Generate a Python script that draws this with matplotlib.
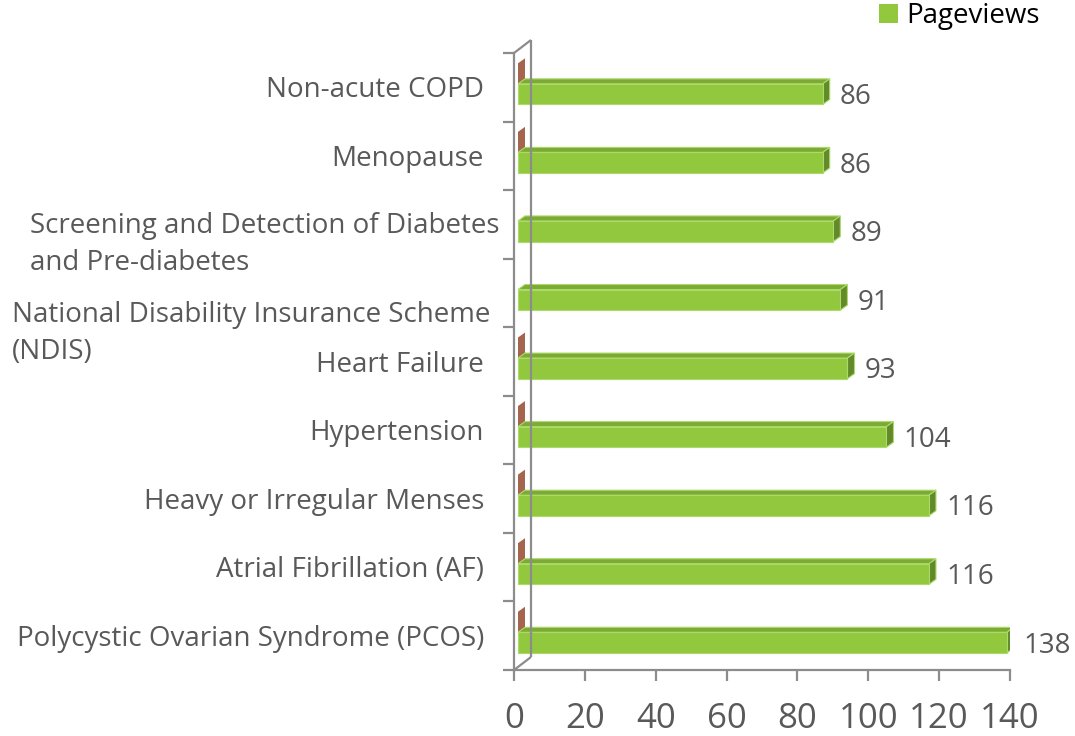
import matplotlib
matplotlib.use("Agg")
import matplotlib.pyplot as plt
from matplotlib.patches import Polygon, Patch
from matplotlib.transforms import ScaledTranslation, IdentityTransform

plt.rcParams['font.family'] = ['Open Sans', 'DejaVu Sans']

# data, listed bottom to top as drawn
categories = [
    "Polycystic Ovarian Syndrome (PCOS)",
    "Atrial Fibrillation (AF)",
    "Heavy or Irregular Menses",
    "Hypertension",
    "Heart Failure",
    "National Disability Insurance Scheme\n(NDIS)",
    "Screening and Detection of Diabetes\nand Pre-diabetes",
    "Menopause",
    "Non-acute COPD",
]
pageviews = [138, 116, 116, 104, 93, 91, 89, 86, 86]
# second (empty) series, only its end caps show
other = [0, 0, 0, 0, 0, None, None, 0, 0]
x_ticks = [0, 20, 40, 60, 80, 100, 120, 140]

# label placement tweaks (pixels) for the wrapped Excel labels
label_dx = [-30, -30, -30, -30, -30, -24, -14, -30, -30]
label_dy = [-3, -3, -3, -3, -3, -22, -2, -3, -3]
line_gap = 37

GREEN = '#92C83E'
GREEN_TOP = '#7DAA33'
GREEN_SIDE = '#63892A'
GREEN_EDGE = '#A9DA6A'
BROWN = '#A5644E'
GRAY_TXT = '#595959'
AXIS = '#8C8C8C'

W, H = 1075, 736
fig = plt.figure(figsize=(W / 100, H / 100), dpi=100)
ax_l, ax_r, ax_t, ax_b = 514, 1010, 53, 670
ax = fig.add_axes([ax_l / W, 1 - ax_b / H, (ax_r - ax_l) / W, (ax_b - ax_t) / H])
ax.set_xlim(0, 140)
ax.set_ylim(-0.5, len(categories) - 0.5)

# data units per pixel
px_x = 140 / (ax_r - ax_l)
px_y = len(categories) / (ax_b - ax_t)

# bar depth (pixels) and shift of bar front plane
dep_x, dep_y = 7 * px_x, 5 * px_y
shift_x = 4 * px_x
h = 0.30

for i, v in enumerate(pageviews):
    # brown zero-valued series (end cap only)
    if other[i] is not None:
        yb = i + 0.20
        b0, b1 = yb - h / 2, yb + h / 2
        x0 = shift_x + other[i]
        ax.add_patch(Polygon([(x0, b0), (x0 + dep_x, b0 + dep_y),
                              (x0 + dep_x, b1 + dep_y), (x0, b1)],
                             closed=True, facecolor=BROWN, edgecolor='none'))
    yc = i - 0.10
    y0, y1 = yc - h / 2, yc + h / 2
    x0, x1 = shift_x, shift_x + v
    # top face
    ax.add_patch(Polygon([(x0, y1), (x1, y1), (x1 + dep_x, y1 + dep_y),
                          (x0 + dep_x, y1 + dep_y)], closed=True,
                         facecolor=GREEN_TOP, edgecolor=GREEN_EDGE, lw=0.8))
    # side face
    ax.add_patch(Polygon([(x1, y0), (x1 + dep_x, y0 + dep_y),
                          (x1 + dep_x, y1 + dep_y), (x1, y1)], closed=True,
                         facecolor=GREEN_SIDE, edgecolor=GREEN_EDGE, lw=0.8))
    # front face
    ax.add_patch(Polygon([(x0, y0), (x1, y0), (x1, y1), (x0, y1)], closed=True,
                         facecolor=GREEN, edgecolor=GREEN_EDGE, lw=0.8))
    # value label
    ax.text(x1 + dep_x + 10 * px_x, yc - 3 * px_y, str(v), ha='left', va='center',
            fontsize=20, color=GRAY_TXT)

# category labels (wrapped ones: later lines left-aligned under the first)
renderer = fig.canvas.get_renderer()
for i, lab in enumerate(categories):
    lines = lab.split('\n')
    tr = ax.get_yaxis_transform() + ScaledTranslation(label_dx[i] / 100, label_dy[i] / 100,
                                                      fig.dpi_scale_trans)
    first = ax.text(0, i, lines[0], transform=tr, ha='right', va='center',
                    fontsize=20, color=GRAY_TXT)
    if len(lines) > 1:
        bb = first.get_window_extent(renderer=renderer)
        yc_px = (bb.y0 + bb.y1) / 2
        for j, ln in enumerate(lines[1:], start=1):
            fig.text(bb.x0, yc_px - j * line_gap, ln, transform=IdentityTransform(),
                     ha='left', va='center', fontsize=20, color=GRAY_TXT)

# axes: front frame + back wall lines
for s in ['top', 'right']:
    ax.spines[s].set_visible(False)
for s in ['left', 'bottom']:
    ax.spines[s].set_color(AXIS)
    ax.spines[s].set_linewidth(1.6)

ax.set_yticks([k - 0.5 for k in range(len(categories) + 1)])
ax.set_yticklabels([])
ax.tick_params(axis='y', length=8, width=1.6, color=AXIS, direction='out')
ax.set_xticks(x_ticks)
ax.set_xticklabels([str(t) for t in x_ticks])
ax.tick_params(axis='x', length=8, width=1.6, color=AXIS, direction='out',
               labelsize=25, labelcolor=GRAY_TXT, pad=15)

bx, by = 17 / (ax_r - ax_l), 13 / (ax_b - ax_t)
wall = dict(transform=ax.transAxes, color=AXIS, lw=1.6, clip_on=False,
            solid_capstyle='butt')
ax.plot([bx, bx], [by, 1 + by], **wall)
ax.plot([0, bx], [1, 1 + by], **wall)
ax.plot([0, bx], [0, by], **wall)

fig.legend(handles=[Patch(facecolor=GREEN, edgecolor='none')], labels=['Pageviews'],
           loc='upper right', bbox_to_anchor=(1040 / W, 1 - 2 / H), frameon=False,
           fontsize=20, handlelength=0.7, handleheight=0.7, handletextpad=0.3,
           borderpad=0, borderaxespad=0)

fig.savefig('out.png', dpi=100)
